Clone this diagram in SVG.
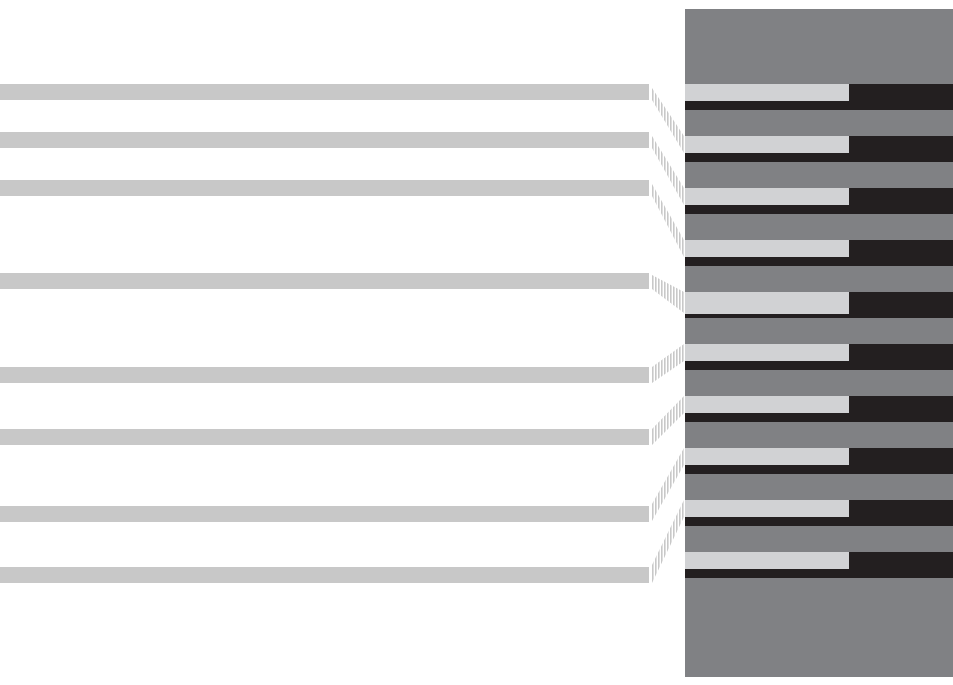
<svg xmlns="http://www.w3.org/2000/svg" width="953" height="685" viewBox="0 0 953 685">
<defs>
<style>
.bar{fill:#c8c8c8}
.panel{fill:#808184}
.dk{fill:#231f20}
.lt{fill:#d1d2d4}
.hatch{fill:url(#stripes)}
</style>
<pattern id="stripes" patternUnits="userSpaceOnUse" x="652" y="0" width="3" height="10">
<rect x="0" y="0" width="1.6" height="10" fill="#c8c8c8"/>
</pattern>
</defs>
<rect width="953" height="685" fill="#ffffff"/>
<g id="panel">
<rect class="panel" x="685" y="9" width="268" height="668"/>
</g>
<g id="tab1"><rect class="dk" x="685" y="84" width="268" height="26"/><rect class="lt" x="685" y="84" width="164" height="17"/></g>
<g id="tab2"><rect class="dk" x="685" y="136" width="268" height="26"/><rect class="lt" x="685" y="136" width="164" height="17"/></g>
<g id="tab3"><rect class="dk" x="685" y="188" width="268" height="26"/><rect class="lt" x="685" y="188" width="164" height="17"/></g>
<g id="tab4"><rect class="dk" x="685" y="240" width="268" height="26"/><rect class="lt" x="685" y="240" width="164" height="17"/></g>
<g id="tab5"><rect class="dk" x="685" y="292" width="268" height="26"/><rect class="lt" x="685" y="292" width="164" height="22"/></g>
<g id="tab6"><rect class="dk" x="685" y="344" width="268" height="26"/><rect class="lt" x="685" y="344" width="164" height="17"/></g>
<g id="tab7"><rect class="dk" x="685" y="396" width="268" height="26"/><rect class="lt" x="685" y="396" width="164" height="17"/></g>
<g id="tab8"><rect class="dk" x="685" y="448" width="268" height="26"/><rect class="lt" x="685" y="448" width="164" height="17"/></g>
<g id="tab9"><rect class="dk" x="685" y="500" width="268" height="26"/><rect class="lt" x="685" y="500" width="164" height="17"/></g>
<g id="tab10"><rect class="dk" x="685" y="552" width="268" height="26"/><rect class="lt" x="685" y="552" width="164" height="17"/></g>
<g id="bar1"><rect class="bar" x="0" y="84" width="649" height="16"/></g>
<g id="bar2"><rect class="bar" x="0" y="132" width="649" height="16"/></g>
<g id="bar3"><rect class="bar" x="0" y="180" width="649" height="16"/></g>
<g id="bar4"><rect class="bar" x="0" y="273" width="649" height="16"/></g>
<g id="bar5"><rect class="bar" x="0" y="367" width="649" height="16"/></g>
<g id="bar6"><rect class="bar" x="0" y="429" width="649" height="16"/></g>
<g id="bar7"><rect class="bar" x="0" y="506" width="649" height="16"/></g>
<g id="bar8"><rect class="bar" x="0" y="567" width="649" height="16"/></g>
<g id="connectors">
<polygon class="hatch" points="652,88 684,136 684,153 652,100"/>
<polygon class="hatch" points="652,136 684,188 684,205 652,148"/>
<polygon class="hatch" points="652,184 684,240 684,257 652,196"/>
<polygon class="hatch" points="652,275 684,292 684,313 652,289"/>
<polygon class="hatch" points="652,367 684,344 684,361 652,383"/>
<polygon class="hatch" points="652,429 684,396 684,413 652,445"/>
<polygon class="hatch" points="652,504 684,448 684,465 652,521"/>
<polygon class="hatch" points="652,565 684,500 684,517 652,583"/>
</g>
</svg>
